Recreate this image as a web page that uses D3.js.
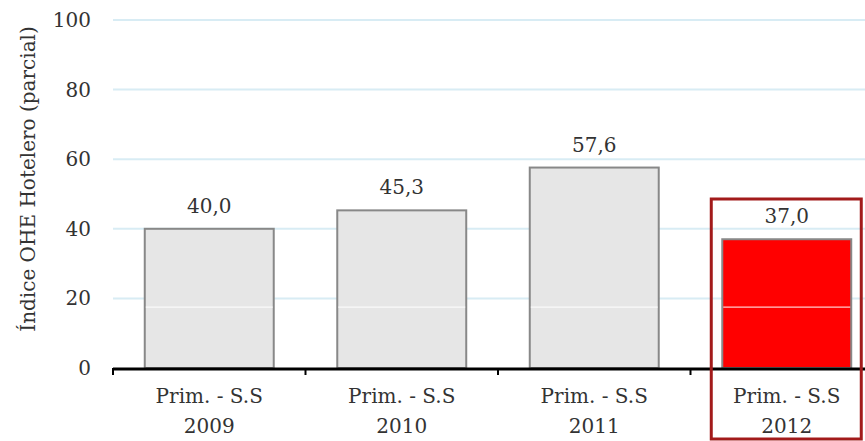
<!DOCTYPE html>
<html lang="en">
	<head>
		<meta charset="utf-8">
		<title>Índice OHE Hotelero (parcial)</title>
		<script src="https://cdn.jsdelivr.net/npm/d3@7"></script>
		<style>
			body { margin: 0; background: #fff; }
			text { font-family: "DejaVu Serif", Georgia, serif; fill: #333; }
		</style>
	</head>
	<body>
		<script>
			// data
			var periods = ["Prim. - S.S", "Prim. - S.S", "Prim. - S.S", "Prim. - S.S"];
			var years = ["2009", "2010", "2011", "2012"];
			var values = [40.0, 45.3, 57.6, 37.0];
			var yTicks = [0, 20, 40, 60, 80, 100];
			var highlight = "2012";

			var w = 865, h = 441;
			var plotLeft = 113, plotRight = 883, plotTop = 20, plotBottom = 368;

			var svg = d3.select("body").append("svg")
				.attr("width", w)
				.attr("height", h);

			var x = d3.scaleBand()
				.domain(years)
				.range([plotLeft, plotRight])
				.paddingInner(0.33)
				.paddingOuter(0.165);

			var y = d3.scaleLinear()
				.domain([0, 100])
				.range([plotBottom, plotTop]);

			// gridlines
			svg.append("g")
				.selectAll("line")
				.data(yTicks.filter(function(d) { return d > 0; }))
				.enter().append("line")
				.attr("x1", plotLeft)
				.attr("x2", w)
				.attr("y1", function(d) { return y(d); })
				.attr("y2", function(d) { return y(d); })
				.attr("stroke", "#d8ecf4")
				.attr("stroke-width", 2);

			// y tick labels
			svg.append("g")
				.selectAll("text")
				.data(yTicks)
				.enter().append("text")
				.attr("x", 91)
				.attr("y", function(d) { return y(d); })
				.attr("dy", "0.35em")
				.attr("text-anchor", "end")
				.attr("font-size", "20px")
				.text(function(d) { return d; });

			// y title
			svg.append("text")
				.attr("transform", "translate(35,179) rotate(-90)")
				.attr("text-anchor", "middle")
				.attr("font-size", "20px")
				.text("Índice OHE Hotelero (parcial)");

			var data = years.map(function(yr, i) {
				return { year: yr, period: periods[i], value: values[i] };
			});

			// bars
			svg.append("g")
				.selectAll("rect")
				.data(data)
				.enter().append("rect")
				.attr("x", function(d) { return x(d.year); })
				.attr("y", function(d) { return y(d.value); })
				.attr("width", x.bandwidth())
				.attr("height", function(d) { return plotBottom - y(d.value); })
				.attr("fill", function(d) { return d.year === highlight ? "#ff0000" : "#e6e6e6"; })
				.attr("stroke", "#888")
				.attr("stroke-width", 2);

			// thin white line through bars
			svg.append("g")
				.selectAll("line")
				.data(data)
				.enter().append("line")
				.attr("x1", function(d) { return x(d.year) + 1; })
				.attr("x2", function(d) { return x(d.year) + x.bandwidth() - 1; })
				.attr("y1", y(17.5))
				.attr("y2", y(17.5))
				.attr("stroke", "#fff")
				.attr("stroke-width", 1);

			// value labels
			svg.append("g")
				.selectAll("text")
				.data(data)
				.enter().append("text")
				.attr("x", function(d) { return x(d.year) + x.bandwidth() / 2; })
				.attr("y", function(d) { return y(d.value) - 16; })
				.attr("text-anchor", "middle")
				.attr("font-size", "20px")
				.text(function(d) { return d3.format(".1f")(d.value).replace(".", ","); });

			// x axis
			var xAxis = svg.append("g");
			xAxis.append("line")
				.attr("x1", plotLeft)
				.attr("x2", w)
				.attr("y1", plotBottom + 1)
				.attr("y2", plotBottom + 1)
				.attr("stroke", "#000")
				.attr("stroke-width", 3);
			xAxis.selectAll(".tick")
				.data(years)
				.enter().append("line")
				.attr("x1", function(d) { return x(d) - x.step() * x.paddingInner() / 2; })
				.attr("x2", function(d) { return x(d) - x.step() * x.paddingInner() / 2; })
				.attr("y1", plotBottom)
				.attr("y2", plotBottom + 7)
				.attr("stroke", "#000")
				.attr("stroke-width", 2);

			var labels = xAxis.selectAll(".lab")
				.data(data)
				.enter().append("text")
				.attr("text-anchor", "middle")
				.attr("font-size", "20px");
			labels.append("tspan")
				.attr("x", function(d) { return x(d.year) + x.bandwidth() / 2; })
				.attr("y", 403)
				.text(function(d) { return d.period; });
			labels.append("tspan")
				.attr("x", function(d) { return x(d.year) + x.bandwidth() / 2; })
				.attr("y", 433)
				.text(function(d) { return d.year; });

			// highlight box around the last category
			var hx = x(highlight);
			svg.append("rect")
				.attr("x", hx - 11)
				.attr("y", 199)
				.attr("width", 150)
				.attr("height", 240)
				.attr("fill", "none")
				.attr("stroke", "#a21a1a")
				.attr("stroke-width", 3);
		</script>
	</body>
</html>
